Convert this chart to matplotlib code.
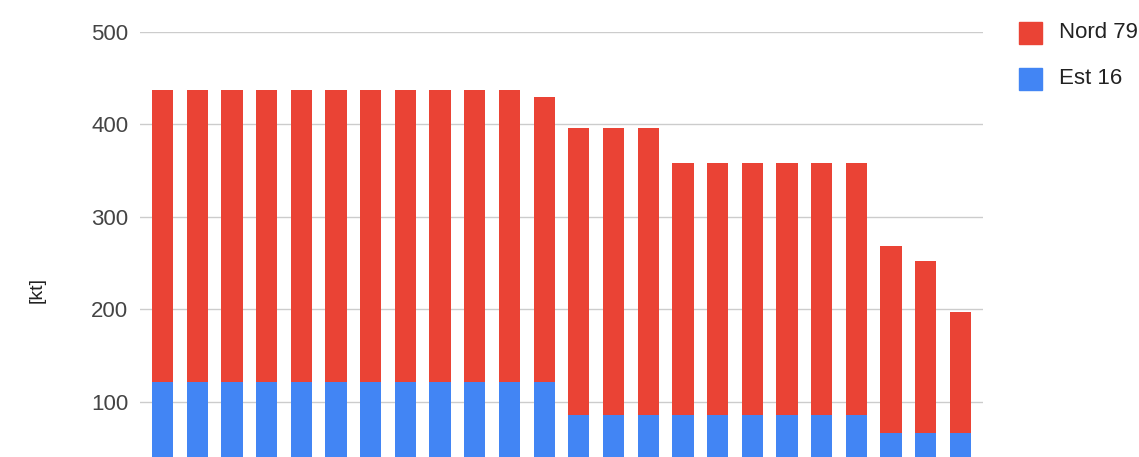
import numpy as np
import matplotlib
matplotlib.use('Agg')
import matplotlib.pyplot as plt

# bar totals, split into the two series
est_16 = [121] * 12 + [86] * 9 + [66] * 3
totals = [437] * 11 + [430] + [396] * 3 + [358] * 6 + [268, 252, 197]
nord_79 = [t - e for t, e in zip(totals, est_16)]
labels = ['Nord 79', 'Est 16']
colors = ['#EA4335', '#4285F4']

plt.rcParams['font.family'] = ['Liberation Sans', 'DejaVu Sans']

W, H = 1139, 457
fig = plt.figure(figsize=(W / 100, H / 100), dpi=100)
# the original is cropped: the axis floor (0) sits below the image edge
ax = fig.add_axes([140 / W, (H - 494) / H, 843 / W, 462 / H])

x = np.arange(len(totals))
ax.bar(x, est_16, width=0.61, color=colors[1], zorder=2)
ax.bar(x, nord_79, bottom=est_16, width=0.61, color=colors[0], zorder=2)

ax.set_xlim(-0.65, len(totals) - 0.35)
ax.set_ylim(0, 500)
ax.set_yticks([100, 200, 300, 400, 500])
ax.set_xticks([])
ax.grid(axis='y', color='#cccccc', linewidth=1, zorder=0)
for s in ax.spines.values():
    s.set_visible(False)
ax.tick_params(axis='y', length=0, pad=8.5, labelsize=16, labelcolor='#444444')

fig.text(37 / W, 1 - 290 / H, '[kt]', rotation=90, ha='center', va='center',
         fontsize=14, color='#222222')

# legend drawn by hand so it runs off the right edge like the original
for i, (lab, c) in enumerate(zip(labels, colors)):
    yc = 1 - (33 + 46 * i) / H
    fig.patches.append(plt.Rectangle((1019 / W, yc - 11 / H), 23 / W, 22 / H,
                                     color=c, transform=fig.transFigure, figure=fig))
    fig.text(1059 / W, yc, lab, va='center', fontsize=16, color='#222222')

fig.savefig('out.png', dpi=100)
